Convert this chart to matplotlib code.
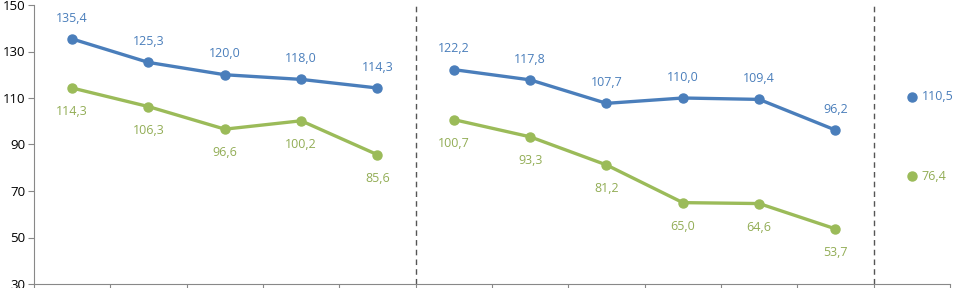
import matplotlib
matplotlib.use("Agg")
import matplotlib.pyplot as plt
import numpy as np

plt.rcParams['font.family'] = ['Open Sans', 'DejaVu Sans']

blue_g1 = [135.4, 125.3, 120.0, 118.0, 114.3]
green_g1 = [114.3, 106.3, 96.6, 100.2, 85.6]
blue_g2 = [122.2, 117.8, 107.7, 110.0, 109.4, 96.2]
green_g2 = [100.7, 93.3, 81.2, 65.0, 64.6, 53.7]
blue_g3 = [110.5]
green_g3 = [76.4]
yticks = [30, 50, 70, 90, 110, 130, 150]

BLUE = '#4a7ebb'
GREEN = '#9bbb59'
BLUE_T = '#4a7ebb'
GREEN_T = '#92ad55'

fig = plt.figure(figsize=(9.54, 2.88), dpi=100)
ax = fig.add_axes([34/954, 4/288, 916/954, 279/288])

def fmt(v):
    return f"{v:.1f}".replace('.', ',')

x1 = np.arange(0, 5)
x2 = np.arange(5, 11)
x3 = np.array([11])

for xs, b, g in [(x1, blue_g1, green_g1), (x2, blue_g2, green_g2)]:
    ax.plot(xs, b, color=BLUE, lw=2.4, marker='o', ms=6.5, zorder=3)
    ax.plot(xs, g, color=GREEN, lw=2.4, marker='o', ms=6.5, zorder=3)
    for x, v in zip(xs, b):
        ax.annotate(fmt(v), (x, v), xytext=(0, 15), textcoords='offset points',
                    ha='center', va='center', color=BLUE_T, fontsize=9)
    for x, v in zip(xs, g):
        ax.annotate(fmt(v), (x, v), xytext=(0, -17), textcoords='offset points',
                    ha='center', va='center', color=GREEN_T, fontsize=9)

ax.plot(x3, blue_g3, color=BLUE, marker='o', ms=6.5, lw=0, zorder=3)
ax.plot(x3, green_g3, color=GREEN, marker='o', ms=6.5, lw=0, zorder=3)
for x, v in zip(x3, blue_g3):
    ax.annotate(fmt(v), (x, v), xytext=(7, 0), textcoords='offset points',
                ha='left', va='center', color=BLUE_T, fontsize=9)
for x, v in zip(x3, green_g3):
    ax.annotate(fmt(v), (x, v), xytext=(7, 0), textcoords='offset points',
                ha='left', va='center', color=GREEN_T, fontsize=9)

for xv in [4.5, 10.5]:
    ax.axvline(xv, color='#555555', lw=1, ls=(0, (4, 3)), zorder=1)

ax.set_xlim(-0.5, 11.5)
ax.set_ylim(30, 150)
ax.set_yticks(yticks)
ax.set_yticklabels([str(t) for t in yticks], fontsize=9.5)
ax.set_xticks(np.arange(-0.5, 12, 1))
ax.set_xticklabels([])
ax.tick_params(axis='x', length=4, color='#888888', direction='out')
ax.tick_params(axis='y', length=4, color='#888888', direction='out', pad=2)
for s in ['top', 'right']:
    ax.spines[s].set_visible(False)
for s in ['left', 'bottom']:
    ax.spines[s].set_color('#888888')

fig.savefig('out.png', dpi=100)
